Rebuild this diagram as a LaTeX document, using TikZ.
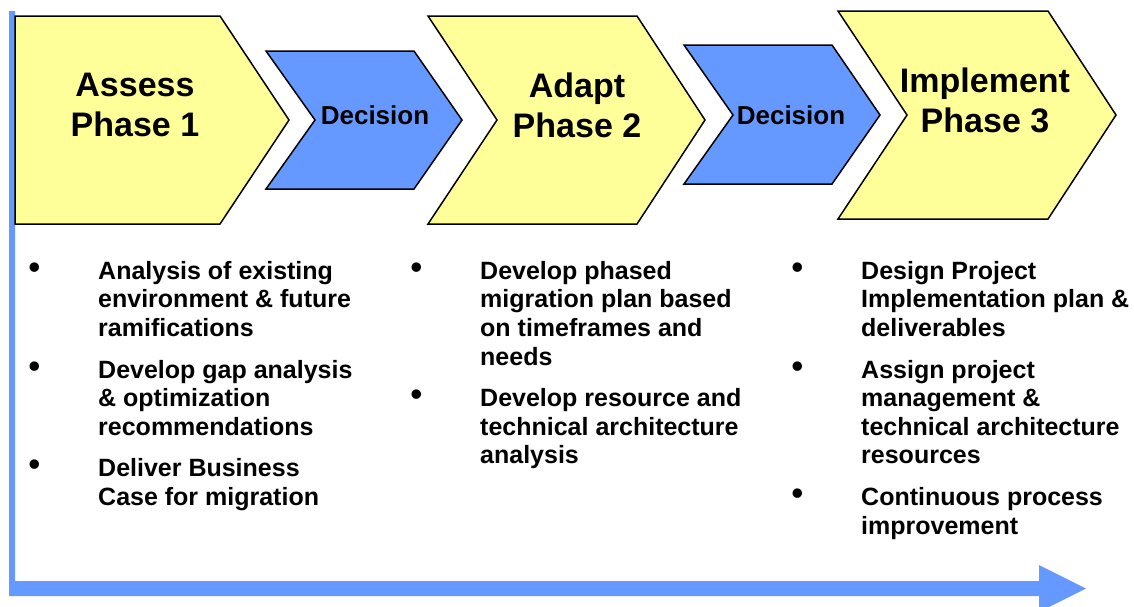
\documentclass[tikz,border=0pt]{standalone}
\usepackage{fontspec}
\setmainfont{Liberation Sans}
\usepackage{tikz}
\usetikzlibrary{positioning}

\definecolor{phaseyellow}{HTML}{FFFF99}
\definecolor{decisionblue}{HTML}{6699FF}

\newcommand{\bul}{\llap{\raisebox{1pt}{\fontsize{33}{33}\selectfont\textbullet}\hspace{58pt}}}

\tikzset{
    phase/.style={draw=black, line width=1.5pt, fill=phaseyellow, line join=miter},
    decision/.style={draw=black, line width=1.5pt, fill=decisionblue, line join=miter},
    phasetext/.style={align=center, font=\bfseries\fontsize{34}{40}\selectfont, inner sep=0pt},
    decisiontext/.style={font=\bfseries\fontsize{26}{29}\selectfont, inner sep=0pt},
    itemlist/.style={anchor=north west, align=left, inner sep=0pt, font=\bfseries\fontsize{25}{28.6}\selectfont}
}

\begin{document}
\begin{tikzpicture}[x=1pt,y=-1pt]
    \useasboundingbox (0,0) rectangle (1134,606);

    % time axis
    \fill[decisionblue] (9,11) -- (15,11) -- (15,581) -- (1039,581) -- (1039,565) -- (1086,588.5)
        -- (1039,612) -- (1039,596) -- (9,596) -- cycle;

    % chevrons
    \draw[phase] (15,16) -- (220,16) -- (289,120) -- (220,224) -- (15,224) -- cycle;
    \draw[decision] (266,51) -- (414,51) -- (462,120) -- (414,189) -- (266,189) -- (315,120) -- cycle;
    \draw[phase] (428,16) -- (637,16) -- (705,120) -- (637,224) -- (428,224) -- (497,120) -- cycle;
    \draw[decision] (684,45) -- (832,45) -- (880,115) -- (832,184) -- (684,184) -- (733,115) -- cycle;
    \draw[phase] (838,11) -- (1048,11) -- (1116,115) -- (1048,219) -- (838,219) -- (907,115) -- cycle;

    \node[phasetext] (assess) at (135,105) {Assess\\Phase 1};
    \node[decisiontext] (dec1) at (375,115) {Decision};
    \node[phasetext] (adapt) at (577,105) {Adapt\\Phase 2};
    \node[decisiontext] (dec2) at (791,115) {Decision};
    \node[phasetext] (implement) at (985,100) {Implement\\Phase 3};

    % activities under each phase
    \node[itemlist] (list1) at (98,261) {%
        \bul Analysis of existing\\environment \& future\\ramifications\\[13pt]
        \bul Develop gap analysis\\\& optimization\\recommendations\\[13pt]
        \bul Deliver Business\\Case for migration};
    \node[itemlist] (list2) at (480,261) {%
        \bul Develop phased\\migration plan based\\on timeframes and\\needs\\[13pt]
        \bul Develop resource and\\technical architecture\\analysis};
    \node[itemlist] (list3) at (861,261) {%
        \bul Design Project\\Implementation plan \&\\deliverables\\[13pt]
        \bul Assign project\\management \&\\technical architecture\\resources\\[13pt]
        \bul Continuous process\\improvement};
\end{tikzpicture}
\end{document}
